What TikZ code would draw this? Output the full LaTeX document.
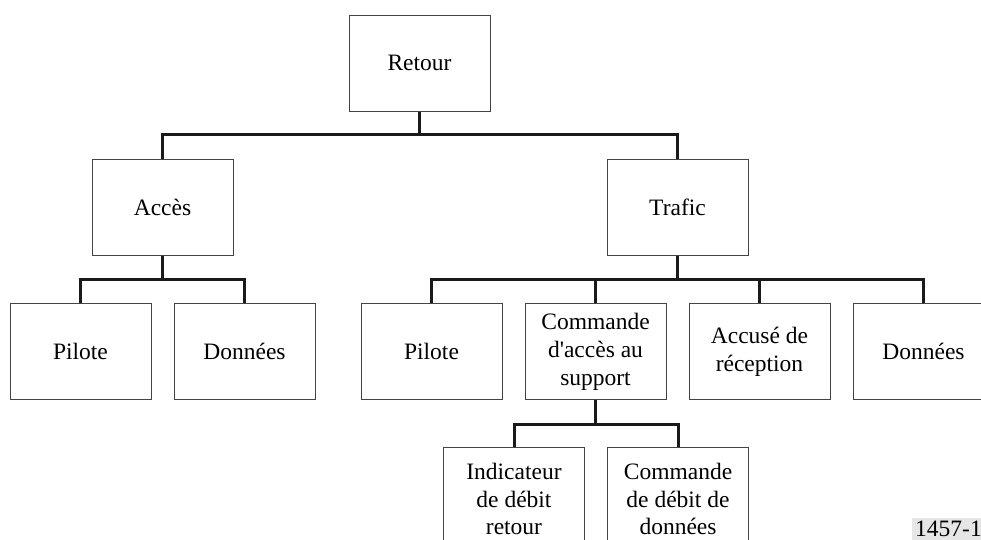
\documentclass[tikz,border=0pt]{standalone}
\usepackage{fontspec}
\setmainfont{Liberation Serif}
\usepackage{tikz}
\usepackage{xcolor}
\definecolor{vdarkgray}{HTML}{1a1a1a}
\definecolor{vbordergray}{HTML}{444444}
\definecolor{vlabelgray}{HTML}{e6e6e6}

\begin{document}
\begin{tikzpicture}[x=1pt, y=-1pt,
		box/.style={draw=vbordergray, line width=1pt, minimum width=141pt, minimum height=96pt, align=center, inner sep=2pt, font=\fontsize{23.5}{28}\selectfont},
		link/.style={draw=vdarkgray, line width=3pt}]
		\useasboundingbox (0,0) rectangle (981,539);
		% levels 1 and 2
		\node[box] (retour) at (419.5,63) {Retour};
		\node[box] (acces) at (162.5,207) {Accès};
		\node[box] (trafic) at (677.5,207) {Trafic};
		% level 3
		\node[box] (pilotea) at (80.5,351.5) {Pilote};
		\node[box] (donneesa) at (244.5,351.5) {Données};
		\node[box] (piloteb) at (431.5,351.5) {Pilote};
		\node[box] (commande) at (595.5,351.5) {Commande\\d\textquotesingle accès au\\support};
		\node[box] (accuse) at (759.5,351.5) {Accusé de\\réception};
		\node[box] (donneesb) at (923.5,351.5) {Données};
		% level 4
		\node[box, minimum height=104pt, font=\fontsize{23.5}{27.5}\selectfont] (indicateur) at (514,499) {Indicateur\\de débit\\retour};
		\node[box, minimum height=104pt, font=\fontsize{23.5}{27.5}\selectfont] (debit) at (678,499) {Commande\\de débit de\\données};
		\node[anchor=north west, fill=vlabelgray, inner sep=3pt, font=\fontsize{23.5}{28}\selectfont] (figno) at (912,518) {1457-17};
		% connectors
		\draw[link] (retour.south) -- ++(0,24);
		\draw[link] (acces.north) -- ++(0,-24) -| (trafic.north);
		\draw[link] (acces.south) -- ++(0,25);
		\draw[link] (pilotea.north) -- ++(0,-24) -| (donneesa.north);
		\draw[link] (trafic.south) -- ++(0,25);
		\draw[link] (piloteb.north) -- ++(0,-24) -| (donneesb.north);
		\draw[link] (commande.north) -- ++(0,-24);
		\draw[link] (accuse.north) -- ++(0,-24);
		\draw[link] (commande.south) -- ++(0,25.5);
		\draw[link] (indicateur.north) -- ++(0,-22) -| (debit.north);
	\end{tikzpicture}
\end{document}
